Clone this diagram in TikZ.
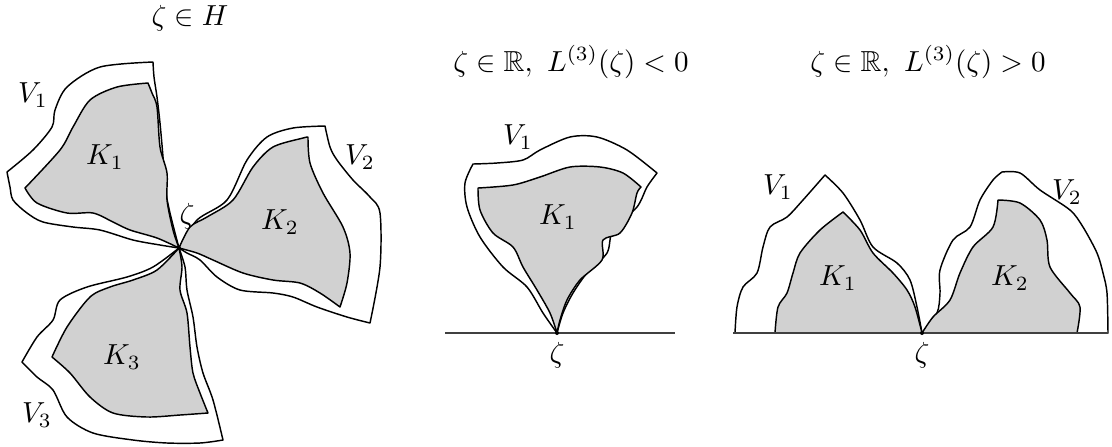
\documentclass[tikz,border=0pt]{standalone}
\usepackage{amssymb}

\begin{document}
\begin{tikzpicture}[x=0.345pt, y=-0.345pt,
    vset/.style={draw, fill=white, line width=0.5pt, line join=round},
    kset/.style={draw, fill=black!18, line width=0.5pt, line join=round},
    axis/.style={draw=black!75, line width=0.7pt},
    every node/.style={inner sep=1pt}]
  \useasboundingbox (0,0) rectangle (1112,446);

  %% ---------- LEFT: three petals round zeta in H ----------
  \coordinate (zh) at (179,248);
  \node (th) at (190,18) {$\zeta\in H$};

  \path[vset] (zh) plot[smooth] coordinates {(179,248) (170,213) (165,187) (163,157) (160,123) (157,97) (154,77) (153,62)}
    -- plot[smooth] coordinates {(153,62) (100,67) (67,87) (55,110) (52,127) (33,150) (7,172)}
    -- plot[smooth] coordinates {(7,172) (10,187) (13,200) (27,213) (43,222) (73,227) (100,230) (133,240) (160,245) (179,248)} -- cycle;
  \path[vset] (zh) plot[smooth] coordinates {(179,248) (197,220) (227,200) (247,160) (267,137) (293,128) (325,126)}
    -- plot[smooth] coordinates {(325,126) (330,147) (337,160) (353,180) (370,197) (380,213) (380,267) (370,323)}
    -- plot[smooth] coordinates {(370,323) (347,317) (317,307) (293,297) (273,293) (240,290) (217,277) (200,260) (187,253) (179,248)} -- cycle;
  \path[vset] (zh) plot[smooth] coordinates {(179,248) (185,267) (187,290) (193,317) (197,347) (203,373) (213,400) (223,440)}
    -- plot[smooth] coordinates {(223,440) (200,443) (167,443) (133,440) (93,433) (67,417) (53,390) (37,377) (22,362)}
    -- plot[smooth] coordinates {(22,362) (37,337) (53,320) (60,300) (87,287) (127,277) (153,267) (179,248)} -- cycle;

  \path[kset] (zh) plot[smooth] coordinates {(179,248) (173,230) (167,200) (167,173) (160,147) (157,107) (152,93) (148,83)}
    -- plot[smooth] coordinates {(148,83) (117,87) (90,100) (73,127) (60,150) (25,188)}
    -- plot[smooth] coordinates {(25,188) (37,203) (67,213) (93,213) (113,222) (130,230) (157,238) (179,248)} -- cycle;
  \path[kset] (zh) plot[smooth] coordinates {(179,248) (190,227) (207,217) (233,200) (253,167) (273,147) (303,138) (308,137)}
    -- plot[smooth] coordinates {(308,137) (310,163) (323,193) (343,227) (350,253) (347,283) (340,307)}
    -- plot[smooth] coordinates {(340,307) (320,293) (300,283) (273,280) (243,273) (213,260) (197,253) (179,248)} -- cycle;
  \path[kset] (zh) plot[smooth] coordinates {(179,248) (182,267) (180,290) (187,313) (190,347) (193,373) (200,393) (208,413)}
    -- plot[smooth] coordinates {(208,413) (180,415) (147,417) (113,413) (90,397) (70,373) (52,357)}
    -- plot[smooth] coordinates {(52,357) (67,327) (90,297) (110,287) (133,280) (157,270) (179,248)} -- cycle;
  \fill (zh) circle (2);

  \node (hv1) at (33,95)   {$V_1$};
  \node (hk1) at (105,157) {$K_1$};
  \node (hv2) at (360,157) {$V_2$};
  \node (hk2) at (280,222) {$K_2$};
  \node (hz)  at (187,216) {$\zeta$};
  \node (hk3) at (122,357) {$K_3$};
  \node (hv3) at (37,415)  {$V_3$};

  %% ---------- CENTER: one petal, L^(3) < 0 ----------
  \coordinate (zm) at (557,333);
  \node (tm) at (571,62) {$\zeta\in\mathbb{R},\ L^{(3)}(\zeta)<0$};

  \path[vset] (zm) plot[smooth] coordinates {(557,333) (543,313) (527,287) (503,267) (480,237) (467,207) (465,183) (473,164)}
    -- plot[smooth] coordinates {(473,164) (497,163) (523,160) (540,150) (570,137) (597,137) (627,150) (657,173)}
    -- plot[smooth] coordinates {(657,173) (647,187) (637,207) (613,230) (607,253) (587,273) (573,293) (563,313) (557,333)} -- cycle;
  \path[kset] (zm) plot[smooth] coordinates {(557,333) (550,313) (537,290) (523,267) (513,247) (493,233) (480,210) (478,188)}
    -- plot[smooth] coordinates {(478,188) (513,185) (540,177) (570,167) (600,167) (623,173) (641,187)}
    -- plot[smooth] coordinates {(641,187) (637,193) (632,213) (620,233) (603,240) (602,260) (580,280) (567,300) (560,320) (557,333)} -- cycle;
  \coordinate (ml) at (445,333);
  \coordinate (mr) at (675,333);
  \path[axis] (ml) -- (mr);
  \fill (zm) circle (2);

  \node (mv1) at (518,137) {$V_1$};
  \node (mk1) at (558,217) {$K_1$};
  \node (mz)  at (557,355) {$\zeta$};

  %% ---------- RIGHT: two petals, L^(3) > 0 ----------
  \coordinate (zr) at (922,333);
  \node (tr) at (928,62) {$\zeta\in\mathbb{R},\ L^{(3)}(\zeta)>0$};

  \path[vset] (735,333) plot[smooth] coordinates {(735,333) (737,307) (743,287) (757,273) (763,247) (770,227) (787,217) (803,200) (825,175)}
    -- plot[smooth] coordinates {(825,175) (843,193) (860,220) (873,247) (897,263) (910,280) (917,307) (922,333)} -- cycle;
  \path[vset] (zr) plot[smooth] coordinates {(922,333) (937,313) (940,293) (940,270) (953,240) (970,227) (980,200) (993,180) (1002,172)}
    -- plot[smooth] coordinates {(1002,172) (1020,173) (1040,190) (1070,210) (1083,227) (1097,253) (1103,273) (1107,293) (1108,333)} -- cycle;
  \path[kset] (775,333) plot[smooth] coordinates {(775,333) (778,307) (787,293) (793,273) (800,253) (820,230) (843,212)}
    -- plot[smooth] coordinates {(843,212) (860,230) (873,253) (893,273) (907,290) (915,307) (922,333)} -- cycle;
  \path[kset] (zr) plot[smooth] coordinates {(922,333) (933,317) (950,300) (960,273) (973,247) (993,227) (998,200)}
    -- plot[smooth] coordinates {(998,200) (1020,203) (1040,220) (1047,240) (1050,267) (1070,293) (1080,307) (1077,333)} -- cycle;
  \coordinate (rl) at (733,333);
  \coordinate (rr) at (1108,333);
  \path[axis] (rl) -- (rr);
  \fill (zr) circle (2);

  \node (rv1) at (778,187)  {$V_1$};
  \node (rk1) at (838,278)  {$K_1$};
  \node (rv2) at (1067,192) {$V_2$};
  \node (rk2) at (1010,278) {$K_2$};
  \node (rz)  at (922,355)  {$\zeta$};
\end{tikzpicture}
\end{document}
